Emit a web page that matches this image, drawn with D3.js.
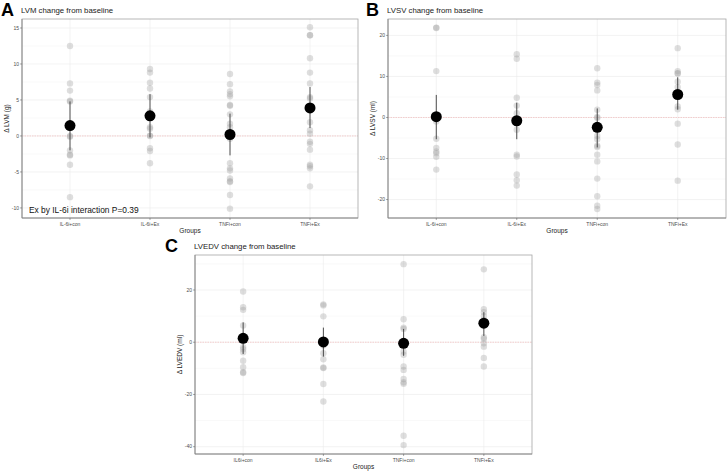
<!DOCTYPE html>
<html>
<head>
<meta charset="utf-8">
<script src="https://cdn.jsdelivr.net/npm/d3@7"></script>
<style>
  body { margin: 0; background: #fff; }
  svg { font-family: "Liberation Sans", Arial, sans-serif; }
  .grid line { stroke: #ebebeb; stroke-width: 0.6px; }
  .grid line.minor { stroke: #f2f2f2; stroke-width: 0.5px; }
  .tick-label { fill: #4d4d4d; font-size: 5px; }
  .axis-title { fill: #222; font-size: 6.5px; }
</style>
</head>
<body>
<svg id="chart" width="728" height="472"></svg>
<script>
// Categories
const groupsAB = ["IL-6i+con", "IL-6i+Ex", "TNFi+con", "TNFi+Ex"];
const groupsC = ["IL6i+con", "IL6i+Ex", "TNFi+con", "TNFi+Ex"];

// Panel A - LVM (g)
const lvmPoints = [
    [12.5, 7.3, 6.3, 4.9, 4.8, 0, -0.1, -2.0, -2.6, -2.7, -4.0, -8.5],
    [9.3, 8.8, 7.4, 6.6, 5.4, 3.4, 1.2, 1.0, 0.05, 0, -1.7, -2.1, -3.8],
    [8.6, 7.2, 6.2, 5.8, 5.5, 4.3, 4.2, 3.0, 1.7, 1.2, -0.4, -3.8, -4.5, -4.8, -5.9, -6.4, -6.3, -8.2, -10.1],
    [15.1, 14.0, 14.0, 10.8, 8.8, 7.3, 5.4, 5.2, 1.9, 0.8, 0.3, -0.8, -1.1, -1.9, -4.0, -4.2, -4.5, -7.0]
];
const lvmMean = [1.45, 2.8, 0.2, 3.9];
const lvmLow = [-2.0, -0.2, -2.7, 1.1];
const lvmHigh = [4.8, 5.8, 3.1, 6.8];
const lvmTicks = [-10, -5, 0, 5, 10, 15];

// Panel B - LVSV (ml)
const lvsvPoints = [
    [21.9, 21.8, 11.3, -1.0, -5.2, -7.4, -8.3, -8.7, -9.6, -12.7],
    [15.4, 14.3, 4.8, 2.9, 1.05, -3.0, -9.1, -9.5, -13.9, -15.3, -16.6],
    [12.0, 8.5, 7.9, 6.6, 1.9, 0.1, -0.1, -4.5, -5.3, -6.9, -7.2, -9.1, -10.7, -14.9, -19.2, -21.5, -22.3],
    [16.9, 11.3, 10.8, 10.7, 8.7, 7.4, 6.3, 5.2, 2.7, 2.0, -1.5, -6.6, -15.4]
];
const lvsvMean = [0.2, -0.8, -2.4, 5.6];
const lvsvLow = [-5.3, -5.3, -7.3, 1.9];
const lvsvHigh = [5.5, 3.6, 2.2, 9.8];
const lvsvTicks = [-20, -10, 0, 10, 20];

// Panel C - LVEDV (ml)
const lvedvPoints = [
    [19.4, 13.4, 12.4, 6.4, -1.9, -2.7, -3.8, -7.1, -9.6, -11.5, -11.8],
    [14.5, 14.1, 9.9, -1.3, -4.2, -6.5, -9.7, -9.9, -16.0, -22.7],
    [29.9, 8.8, 5.6, 5.1, -3.6, -4.8, -9.3, -10.6, -14.1, -15.3, -15.9, -35.8, -39.4],
    [27.9, 12.6, 11.5, 10.1, 8.5, 1.9, 1.3, -0.4, -1.7, -6.0, -9.3]
];
const lvedvMean = [1.5, 0.1, -0.4, 7.3];
const lvedvLow = [-4.5, -5.5, -5.2, 2.4];
const lvedvHigh = [7.6, 5.6, 5.1, 11.5];
const lvedvTicks = [-40, -20, 0, 20];

const svg = d3.select("#chart");

/**
 * Draws one ggplot-style dot plot panel.
 */
function drawPanel(p) {
    const x = d3.scalePoint().domain(p.groups).range([p.left, p.right]).padding(0.6);
    const y = d3.scaleLinear().domain(p.domain).range([p.bottom, p.top]);
    const g = svg.append("g");

    // Grid: minor lines halfway between majors
    const step = p.ticks[1] - p.ticks[0];
    const minor = [];
    for (let v = p.ticks[0] - step / 2; v <= p.domain[1]; v += step) {
        if (v >= p.domain[0]) minor.push(v);
    }
    const grid = g.append("g").attr("class", "grid");
    grid.selectAll("line.minor").data(minor).join("line")
        .attr("class", "minor")
        .attr("x1", p.left).attr("x2", p.right)
        .attr("y1", d => y(d)).attr("y2", d => y(d));
    grid.selectAll("line.major").data(p.ticks).join("line")
        .attr("class", "major")
        .attr("x1", p.left).attr("x2", p.right)
        .attr("y1", d => y(d)).attr("y2", d => y(d));
    grid.selectAll("line.vert").data(p.groups).join("line")
        .attr("class", "vert")
        .attr("x1", d => x(d)).attr("x2", d => x(d))
        .attr("y1", p.top).attr("y2", p.bottom);

    // Zero reference line
    g.append("line")
        .attr("x1", p.left).attr("x2", p.right)
        .attr("y1", y(0)).attr("y2", y(0))
        .attr("stroke", "#f08080").attr("stroke-opacity", 0.7)
        .attr("stroke-width", 0.5).attr("stroke-dasharray", "1.5,1");

    // Individual points
    const pts = [];
    p.points.forEach((arr, i) => arr.forEach(v => pts.push({ g: p.groups[i], v })));
    g.selectAll("circle.pt").data(pts).join("circle")
        .attr("class", "pt")
        .attr("cx", d => x(d.g)).attr("cy", d => y(d.v))
        .attr("r", 3.2)
        .attr("fill", "#a0a0a0").attr("fill-opacity", 0.35);

    // Error bars + means
    g.selectAll("line.err").data(p.groups).join("line")
        .attr("class", "err")
        .attr("x1", d => x(d)).attr("x2", d => x(d))
        .attr("y1", (d, i) => y(p.low[i])).attr("y2", (d, i) => y(p.high[i]))
        .attr("stroke", "#3a3a3a").attr("stroke-width", 0.9);
    g.selectAll("circle.mean").data(p.groups).join("circle")
        .attr("class", "mean")
        .attr("cx", d => x(d)).attr("cy", (d, i) => y(p.mean[i]))
        .attr("r", 5.5).attr("fill", "#000");

    // Panel border
    g.append("rect")
        .attr("x", p.left).attr("y", p.top)
        .attr("width", p.right - p.left).attr("height", p.bottom - p.top)
        .attr("fill", "none").attr("stroke", "#a6a6a6").attr("stroke-width", 0.8);
    g.append("path")
        .attr("d", `M${p.left},${p.top}V${p.bottom}H${p.right}`)
        .attr("fill", "none").attr("stroke", "#7f7f7f").attr("stroke-width", 0.8);

    // Y axis ticks
    g.selectAll("line.yt").data(p.ticks).join("line")
        .attr("class", "yt")
        .attr("x1", p.left - 2).attr("x2", p.left)
        .attr("y1", d => y(d)).attr("y2", d => y(d))
        .attr("stroke", "#555").attr("stroke-width", 0.5);
    g.selectAll("text.yl").data(p.ticks).join("text")
        .attr("class", "tick-label")
        .attr("x", p.left - 3).attr("y", d => y(d) + 1.7)
        .attr("text-anchor", "end")
        .text(d => d);

    // X axis ticks
    g.selectAll("line.xt").data(p.groups).join("line")
        .attr("class", "xt")
        .attr("x1", d => x(d)).attr("x2", d => x(d))
        .attr("y1", p.bottom).attr("y2", p.bottom + 2)
        .attr("stroke", "#555").attr("stroke-width", 0.5);
    g.selectAll("text.xl").data(p.groups).join("text")
        .attr("class", "tick-label")
        .attr("x", d => x(d)).attr("y", p.bottom + 7.5)
        .attr("text-anchor", "middle")
        .text(d => d);

    // Axis titles
    g.append("text").attr("class", "axis-title")
        .attr("x", (p.left + p.right) / 2).attr("y", p.bottom + 15)
        .attr("text-anchor", "middle").text("Groups");
    g.append("text").attr("class", "axis-title")
        .attr("transform", `translate(${p.left - 13},${(p.top + p.bottom) / 2}) rotate(-90)`)
        .attr("text-anchor", "middle").text(p.yTitle);

    // Title and panel letter
    g.append("text")
        .attr("x", p.left - 1).attr("y", p.top - 6)
        .attr("font-size", 7.8).attr("fill", "#222")
        .text(p.title);
    g.append("text")
        .attr("x", p.letterX).attr("y", p.top - 3)
        .attr("font-size", 18).attr("font-weight", "bold").attr("fill", "#000")
        .text(p.letter);

    return { x, y };
}

drawPanel({
    groups: groupsAB, points: lvmPoints, mean: lvmMean, low: lvmLow, high: lvmHigh,
    ticks: lvmTicks, domain: [-11.4, 16.25],
    left: 22, right: 358, top: 19, bottom: 218,
    title: "LVM change from baseline", yTitle: "\u0394 LVM (g)", letter: "A", letterX: 1
});
// annotation inside panel A
svg.append("text")
    .attr("x", 29).attr("y", 213)
    .attr("font-size", 8.4).attr("fill", "#111")
    .text("Ex by IL-6i interaction P=0.39");

drawPanel({
    groups: groupsAB, points: lvsvPoints, mean: lvsvMean, low: lvsvLow, high: lvsvHigh,
    ticks: lvsvTicks, domain: [-24.5, 24],
    left: 388, right: 726, top: 19, bottom: 218,
    title: "LVSV change from baseline", yTitle: "\u0394 LVSV (ml)", letter: "B", letterX: 366
});

drawPanel({
    groups: groupsC, points: lvedvPoints, mean: lvedvMean, low: lvedvLow, high: lvedvHigh,
    ticks: lvedvTicks, domain: [-42.8, 33.4],
    left: 195, right: 532, top: 255, bottom: 454,
    title: "LVEDV change from baseline", yTitle: "\u0394 LVEDV (ml)", letter: "C", letterX: 165
});
</script>
</body>
</html>
